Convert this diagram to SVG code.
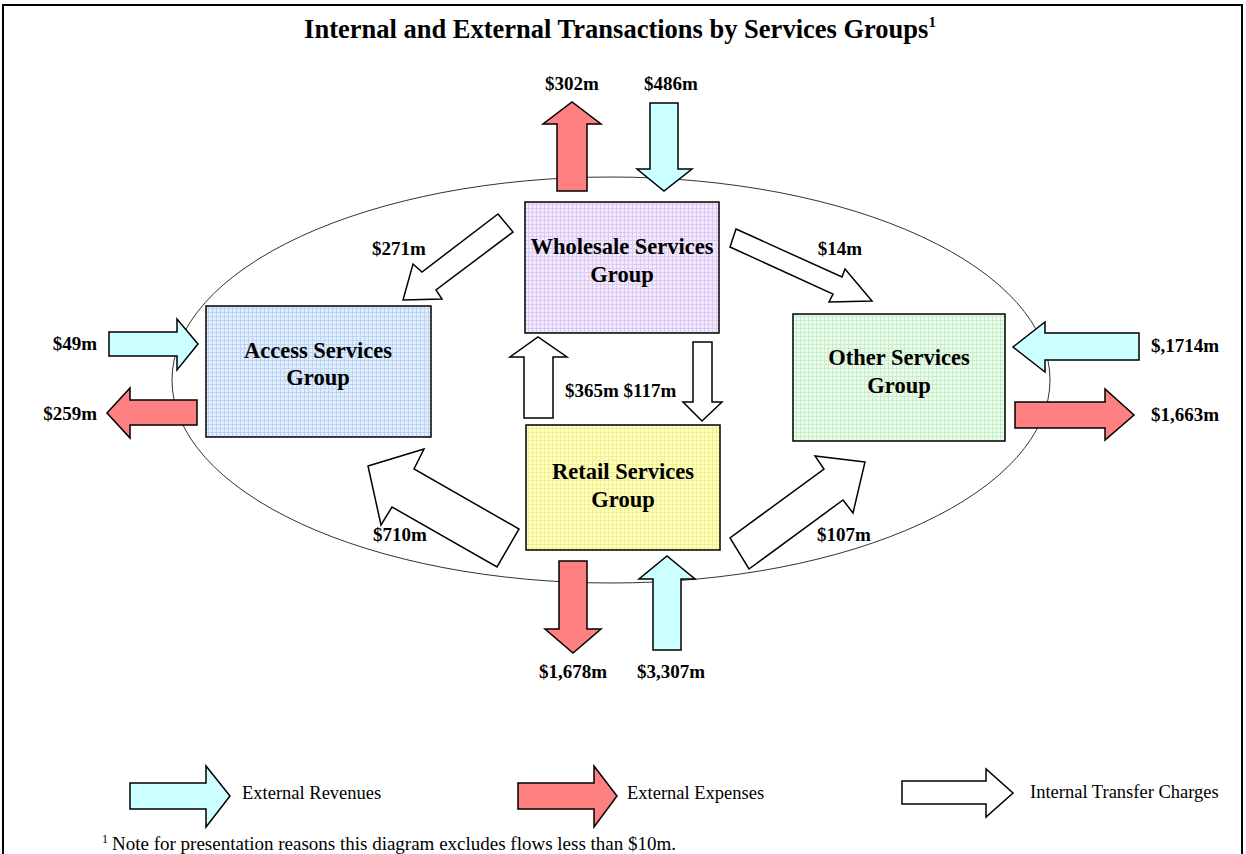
<svg xmlns="http://www.w3.org/2000/svg" width="1246" height="854" viewBox="0 0 1246 854">
<style>
.lbl{font-family:"Liberation Serif","Times New Roman",serif;font-weight:bold;font-size:19px;fill:#000}
.node{font-family:"Liberation Serif","Times New Roman",serif;font-weight:bold;font-size:22.5px;fill:#000;text-anchor:middle}
.leg{font-family:"Liberation Serif","Times New Roman",serif;font-size:18.5px;fill:#000}
.box{stroke:#000;stroke-width:1.5}
.arr{stroke:#000;stroke-width:1.5;stroke-linejoin:miter}
.rev{fill:#ccffff}
.exp{fill:#ff8080}
.int{fill:#ffffff}
</style>
<defs>
<pattern id="pBlue" width="4" height="4" patternUnits="userSpaceOnUse"><rect width="4" height="4" fill="#e2eefc"/><path d="M0 0.5H4M0.5 0V4" stroke="#bcd4f4" stroke-width="1"/></pattern>
<pattern id="pLav" width="4" height="4" patternUnits="userSpaceOnUse"><rect width="4" height="4" fill="#f3eafc"/><path d="M0 0.5H4M0.5 0V4" stroke="#dccaf4" stroke-width="1"/></pattern>
<pattern id="pYel" width="4" height="4" patternUnits="userSpaceOnUse"><rect width="4" height="4" fill="#ffffc4"/><path d="M0 0.5H4M0.5 0V4" stroke="#f2f08c" stroke-width="1"/></pattern>
<pattern id="pGrn" width="4" height="4" patternUnits="userSpaceOnUse"><rect width="4" height="4" fill="#eafcea"/><path d="M0 0.5H4M0.5 0V4" stroke="#cbeccb" stroke-width="1"/></pattern>
</defs>
<rect x="0" y="0" width="1246" height="854" fill="#fff"/>
<path d="M3 860V5H1242V860" fill="none" stroke="#000" stroke-width="2"/>
<text x="620" y="38" text-anchor="middle" style="font-family:'Liberation Serif','Times New Roman',serif;font-weight:bold;font-size:26.5px">Internal and External Transactions by Services Groups<tspan dy="-11" font-size="15">1</tspan></text>
<ellipse cx="611" cy="380" rx="439" ry="203" fill="none" stroke="#333" stroke-width="1"/>
<g id="wholesale">
<rect class="box" x="525" y="202" width="194" height="131" fill="url(#pLav)"/>
<text class="node" x="622" y="254">Wholesale Services</text>
<text class="node" x="622" y="282">Group</text>
</g>
<g id="access">
<rect class="box" x="206" y="306" width="225" height="131" fill="url(#pBlue)"/>
<text class="node" x="318" y="358">Access Services</text>
<text class="node" x="318" y="385">Group</text>
</g>
<g id="retail">
<rect class="box" x="526" y="425" width="194" height="125" fill="url(#pYel)"/>
<text class="node" x="623" y="479">Retail Services</text>
<text class="node" x="623" y="507">Group</text>
</g>
<g id="other">
<rect class="box" x="793" y="314" width="212" height="127" fill="url(#pGrn)"/>
<text class="node" x="899" y="365">Other Services</text>
<text class="node" x="899" y="393">Group</text>
</g>
<g id="connectors">
<polygon class="arr exp" points="557,191 557,124 543,124 572,102 601,124 587,124 587,191"/>
<text class="lbl" x="572" y="90" text-anchor="middle">$302m</text>
<polygon class="arr rev" points="650,103 678,103 678,169 692,169 664,191 637,169 650,169"/>
<text class="lbl" x="671" y="90" text-anchor="middle">$486m</text>
<polygon class="arr int" points="498,214 513,232 436,290 442,299 403,300 413,264 422,272"/>
<text class="lbl" x="399" y="255" text-anchor="middle">$271m</text>
<polygon class="arr int" points="736,229 842,277 845,269 872,301 829,302 833,294 730,247"/>
<text class="lbl" x="840" y="255" text-anchor="middle">$14m</text>
<polygon class="arr rev" points="109,332 177,332 177,319 198,344 177,370 177,356 109,356"/>
<text class="lbl" x="97" y="350" text-anchor="end">$49m</text>
<polygon class="arr exp" points="197,400 130,400 130,388 107,413 130,438 130,425 197,425"/>
<text class="lbl" x="97" y="420" text-anchor="end">$259m</text>
<polygon class="arr rev" points="1139,333 1045,333 1045,322 1013,347 1045,372 1045,360 1139,360"/>
<text class="lbl" x="1151" y="352">$,1714m</text>
<polygon class="arr exp" points="1015,402 1105,402 1105,389 1134,415 1105,440 1105,428 1015,428"/>
<text class="lbl" x="1151" y="421">$1,663m</text>
<polygon class="arr int" points="524,418 524,357 510,357 538,337 567,357 553,357 553,418"/>
<polygon class="arr int" points="693,342 712,342 712,402 722,402 702,421 683,402 693,402"/>
<text class="lbl" x="565" y="397">$365m $117m</text>
<polygon class="arr int" points="368,466 424,449 414,469 519,529 497,567 392,507 381,525"/>
<text class="lbl" x="400" y="541" text-anchor="middle">$710m</text>
<polygon class="arr int" points="865,462 815,456 824,469 730,538 749,569 843,500 853,513"/>
<text class="lbl" x="844" y="541" text-anchor="middle">$107m</text>
<polygon class="arr exp" points="559,561 587,561 587,629 601,629 573,653 545,629 559,629"/>
<text class="lbl" x="573" y="678" text-anchor="middle">$1,678m</text>
<polygon class="arr rev" points="653,650 653,579 639,579 667,556 695,579 681,579 681,650"/>
<text class="lbl" x="671" y="678" text-anchor="middle">$3,307m</text>
</g>
<g id="legend">
<polygon class="arr rev" points="130,783 206,783 206,766 230,796 206,827 206,809 130,809"/>
<text class="leg" x="242" y="799">External Revenues</text>
<polygon class="arr exp" points="518,783 594,783 594,766 617,796 594,827 594,809 518,809"/>
<text class="leg" x="627" y="799">External Expenses</text>
<polygon class="arr int" points="902,781 986,781 986,769 1013,793 986,817 986,804 902,804"/>
<text class="leg" x="1030" y="798">Internal Transfer Charges</text>
</g>
<text class="leg" x="102" y="850" style="font-size:19px"><tspan font-size="12" dy="-7">1</tspan><tspan dx="4" dy="7">Note for presentation reasons this diagram excludes flows less than $10m.</tspan></text>
</svg>
